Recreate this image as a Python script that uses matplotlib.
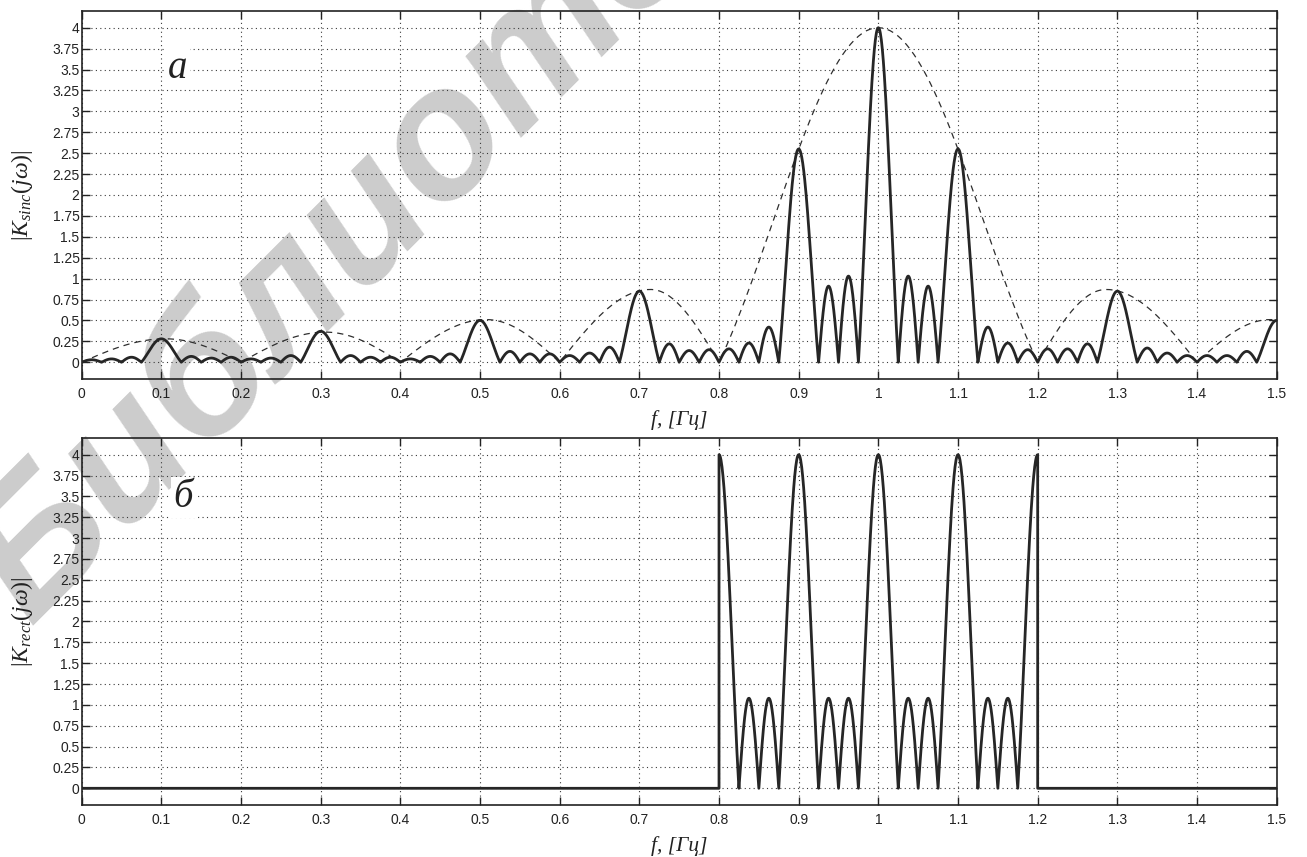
import numpy as np
import matplotlib
matplotlib.use("Agg")
import matplotlib.pyplot as plt

plt.rcParams.update({
    "font.family": ["Liberation Sans", "DejaVu Sans"],
    "mathtext.fontset": "custom",
    "mathtext.rm": "Liberation Serif",
    "mathtext.it": "Liberation Serif:italic",
    "mathtext.bf": "Liberation Serif:bold",
})

# ---- axes ticks -------------------------------------------------------------
f_ticks = [0.0, 0.1, 0.2, 0.3, 0.4, 0.5, 0.6, 0.7, 0.8, 0.9, 1.0,
           1.1, 1.2, 1.3, 1.4, 1.5]
f_tick_labels = ["0", "0.1", "0.2", "0.3", "0.4", "0.5", "0.6", "0.7", "0.8",
                 "0.9", "1", "1.1", "1.2", "1.3", "1.4", "1.5"]
k_ticks = [0, 0.25, 0.5, 0.75, 1, 1.25, 1.5, 1.75, 2, 2.25, 2.5, 2.75,
           3, 3.25, 3.5, 3.75, 4]
k_tick_labels = ["0", "0.25", "0.5", "0.75", "1", "1.25", "1.5", "1.75", "2",
                 "2.25", "2.5", "2.75", "3", "3.25", "3.5", "3.75", "4"]

# ---- |K_sinc(jw)|: lobe boundaries (Hz) and lobe maxima ----------------------
sinc_lobe_edges = [0.0, 0.025, 0.05, 0.075, 0.125, 0.15, 0.175, 0.2, 0.225,
                   0.25, 0.275, 0.325, 0.35, 0.375, 0.4, 0.425, 0.45, 0.475,
                   0.525, 0.55, 0.575, 0.6, 0.625, 0.65, 0.675, 0.725, 0.75,
                   0.775, 0.8, 0.825, 0.85, 0.875, 0.925, 0.95, 0.975, 1.025,
                   1.05, 1.075, 1.125, 1.15, 1.175, 1.2, 1.225, 1.25, 1.275,
                   1.325, 1.35, 1.375, 1.4, 1.425, 1.45, 1.475, 1.525]
sinc_lobe_peaks = [0.03, 0.04, 0.06, 0.28, 0.07, 0.05, 0.06, 0.04, 0.05,
                   0.08, 0.37, 0.08, 0.06, 0.06, 0.04, 0.07, 0.10, 0.50,
                   0.13, 0.10, 0.10, 0.08, 0.11, 0.18, 0.85, 0.22, 0.14,
                   0.15, 0.16, 0.23, 0.42, 2.55, 0.91, 1.03, 4.00, 1.03,
                   0.91, 2.55, 0.42, 0.23, 0.15, 0.16, 0.16, 0.22, 0.85,
                   0.17, 0.11, 0.08, 0.08, 0.08, 0.13, 0.50]

# envelope (dashed): arch boundaries, arch maxima positions and values
env_edges = [0.0, 0.2, 0.4, 0.6, 0.8, 1.2, 1.4, 1.6]
env_peak_f = [0.105, 0.306, 0.508, 0.714, 1.0, 1.286, 1.492]
env_peak_k = [0.28, 0.36, 0.51, 0.87, 4.0, 0.87, 0.51]

# ---- |K_rect(jw)|: pass band and lobes inside it ----------------------------
rect_band = [0.8, 1.2]
rect_lobe_edges = [0.775, 0.825, 0.85, 0.875, 0.925, 0.95, 0.975, 1.025,
                   1.05, 1.075, 1.125, 1.15, 1.175, 1.225]
rect_lobe_peaks = [4.0, 1.08, 1.08, 4.0, 1.08, 1.08, 4.0, 1.08, 1.08,
                   4.0, 1.08, 1.08, 4.0]


def lobe_curve(edges, peaks, peak_at=None, n=81):
    """Join arch-shaped lobes between consecutive zeros."""
    edges = np.asarray(edges, dtype=float)
    widths = np.diff(edges)
    narrow = widths.min()
    fs, ks = [], []
    for i, h in enumerate(peaks):
        a, b = edges[i], edges[i + 1]
        t = np.linspace(0.0, 1.0, n)
        if peak_at is not None:
            p = (peak_at[i] - a) / (b - a)
            u = np.where(t < p, 0.5 * t / p, 0.5 + 0.5 * (t - p) / (1 - p))
        else:
            u = t
        if widths[i] > 1.5 * narrow:
            shape = np.sinc(2 * u - 1)
        else:
            shape = np.sin(np.pi * u)
        fs.append(a + t * (b - a))
        ks.append(h * np.abs(shape))
    return np.concatenate(fs), np.concatenate(ks)


f_sinc, k_sinc = lobe_curve(sinc_lobe_edges, sinc_lobe_peaks)
f_env, k_env = lobe_curve(env_edges, env_peak_k, peak_at=env_peak_f)

f_rl, k_rl = lobe_curve(rect_lobe_edges, rect_lobe_peaks)
inside = (f_rl >= rect_band[0] - 1e-9) & (f_rl <= rect_band[1] + 1e-9)
f_rect = np.concatenate([[0.0, rect_band[0]], f_rl[inside], [rect_band[1], 1.5]])
k_rect = np.concatenate([[0.0, 0.0], k_rl[inside], [0.0, 0.0]])

# ---- figure -----------------------------------------------------------------
fig = plt.figure(figsize=(13.07, 8.57), dpi=100, facecolor="white")

# library stamp behind both panels
fig.text(0.023, 0.27, "Библиоте", rotation=45, rotation_mode="anchor",
         ha="left", va="baseline", fontsize=132, color="#cccccc",
         fontstyle="italic", fontweight="bold", family="Liberation Sans",
         zorder=0.5)

ax1 = fig.add_axes([0.0625, 0.5578, 0.9143, 0.4294])
ax2 = fig.add_axes([0.0625, 0.0607, 0.9143, 0.4282])

line_col = "#262626"
ax1.plot(f_env, k_env, color="#2e2e2e", lw=0.9, dashes=(5, 4), zorder=3)
ax1.plot(f_sinc, k_sinc, color=line_col, lw=2.0, solid_joinstyle="round",
         zorder=4)
ax2.plot(f_rect, k_rect, color=line_col, lw=2.0, solid_joinstyle="round",
         zorder=4)

for ax, ylab, letter, lpos in (
        (ax1, r"$|K_{sinc}(j\omega)|$", "а", (0.121, 3.40)),
        (ax2, r"$|K_{rect}(j\omega)|$", "б", (0.127, 3.37))):
    ax.set_zorder(1)
    ax.set_facecolor("none")
    ax.set_xlim(0, 1.5)
    ax.set_ylim(-0.2, 4.2)
    ax.set_xticks(f_ticks)
    ax.set_xticklabels(f_tick_labels)
    ax.set_yticks(k_ticks)
    ax.set_yticklabels(k_tick_labels)
    ax.tick_params(axis="both", direction="in", length=6, width=1.0,
                   top=True, right=True, labelsize=10, labelcolor="#222222",
                   color="#222222")
    ax.tick_params(axis="x", pad=6)
    ax.tick_params(axis="y", pad=1.5)
    ax.grid(True, color="#3a3a3a", lw=0.8, linestyle=(0, (1, 3)))
    for s in ax.spines.values():
        s.set_linewidth(1.2)
        s.set_color("#222222")
    ax.set_xlabel("f, [Гц]", family="Liberation Serif", style="italic",
                  fontsize=15.5, color="#222222")
    ax.xaxis.set_label_coords(0.5, -0.085)
    ax.xaxis.label.set_verticalalignment("top")
    ax.set_ylabel(ylab, fontsize=17, color="#222222")
    ax.yaxis.set_label_coords(-0.05, 0.5)
    ax.yaxis.label.set_verticalalignment("center")
    ax.text(lpos[0], lpos[1], letter, family="Liberation Serif",
            style="italic", fontsize=28, ha="center", va="baseline",
            color="#222222", zorder=5,
            bbox=dict(facecolor="white", edgecolor="none", pad=1.5))

fig.savefig("out.png", dpi=100, facecolor="white")
